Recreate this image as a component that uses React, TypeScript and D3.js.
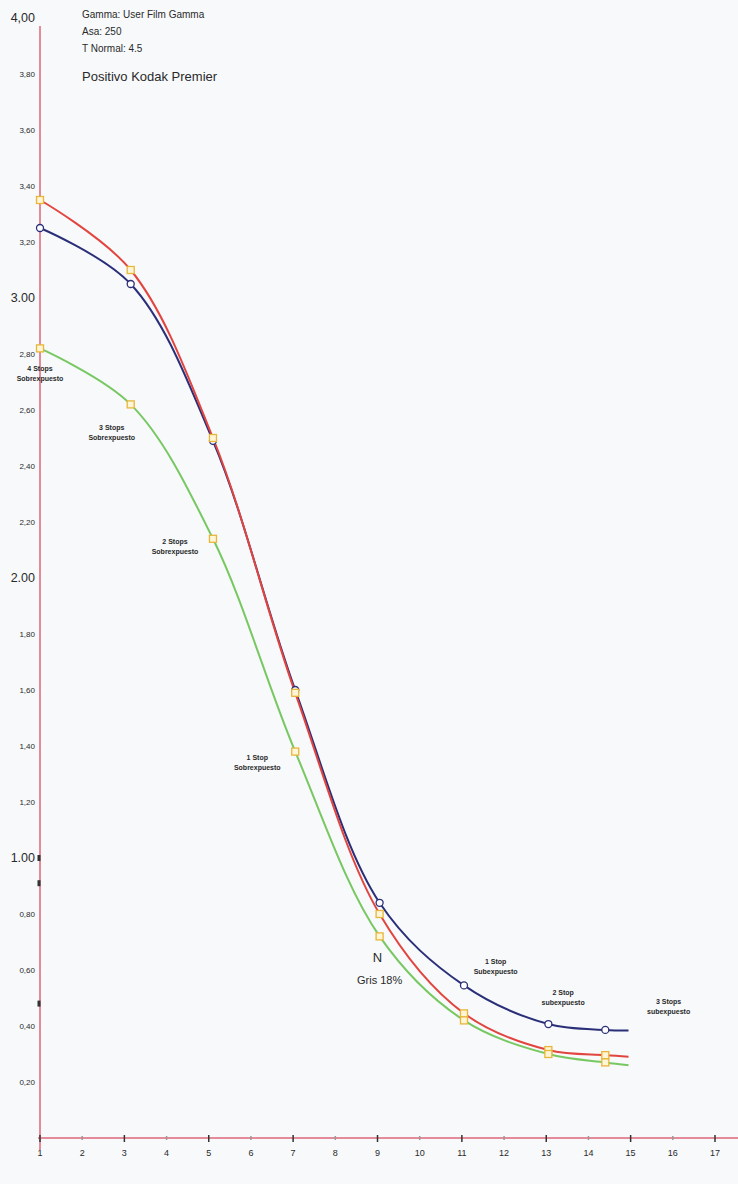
import React from "react";
import * as d3 from "d3";

// Exposure points (stops) and measured densities for each curve
const stopX = [1, 3.15, 5.1, 7.05, 9.05, 11.05, 13.05, 14.4, 14.95];
const redDensity = [3.35, 3.1, 2.5, 1.59, 0.8, 0.445, 0.314, 0.296, 0.29];
const blueDensity = [3.25, 3.05, 2.49, 1.6, 0.84, 0.545, 0.407, 0.386, 0.384];
const greenDensity = [2.82, 2.62, 2.14, 1.38, 0.72, 0.42, 0.3, 0.27, 0.26];
const markerCount = 8;

const yTicks = [4, 3.8, 3.6, 3.4, 3.2, 3, 2.8, 2.6, 2.4, 2.2, 2, 1.8, 1.6, 1.4, 1.2, 1, 0.8, 0.6, 0.4, 0.2];
const majorYTicks = [4, 3, 2, 1];
const xTicks = d3.range(1, 18);

const headerLines = ["Gamma: User Film Gamma", "Asa: 250", "T Normal: 4.5"];
const headerTitle = "Positivo Kodak Premier";

// Stop annotations: [x (stops), density, line1, line2]
const stopNotes: [number, number, string, string][] = [
  [1, 2.74, "4 Stops", "Sobrexpuesto"],
  [2.7, 2.53, "3 Stops", "Sobrexpuesto"],
  [4.2, 2.12, "2 Stops", "Sobrexpuesto"],
  [6.15, 1.35, "1 Stop", "Sobrexpuesto"],
  [11.8, 0.62, "1 Stop", "Subexpuesto"],
  [13.4, 0.51, "2 Stop", "subexpuesto"],
  [15.9, 0.48, "3 Stops", "subexpuesto"],
];

const W = 738;
const H = 1184;

export default function App() {
  const x = d3.scaleLinear().domain([1, 17]).range([40, 715]);
  const y = d3.scaleLinear().domain([0, 4]).range([1138, 18]);

  const line = d3
    .line<number>()
    .x((_, i) => x(stopX[i]))
    .y((d) => y(d))
    .curve(d3.curveCatmullRom.alpha(0.5));

  const series = [
    { name: "blue", values: blueDensity, color: "#2b2f78", marker: "circle" },
    { name: "red", values: redDensity, color: "#e2453f", marker: "square" },
    { name: "green", values: greenDensity, color: "#78c862", marker: "square" },
  ];

  const textColor = "#2a2a2a";
  const axisColor = "#e58a98";

  return (
    <svg
      width={W}
      height={H}
      style={{ position: "absolute", left: 0, top: 0, background: "#f7f9fb" }}
      fontFamily="Liberation Sans, Arial, sans-serif"
    >
      <rect x={0} y={0} width={W} height={H} fill="#f7f9fb" />

      {/* axes */}
      <line x1={x(1)} x2={x(1)} y1={26} y2={1150} stroke={axisColor} strokeWidth={2} />
      <line x1={x(1) - 2} x2={W} y1={y(0)} y2={y(0)} stroke={axisColor} strokeWidth={2} />

      {yTicks.map((t) => {
        const major = majorYTicks.includes(t);
        const label = t === 4 ? "4,00" : major ? t.toFixed(2) : t.toFixed(2).replace(".", ",");
        return (
          <text
            key={t}
            x={35}
            y={y(t)}
            dy="0.35em"
            textAnchor="end"
            fontSize={major ? 12.5 : 8}
            fill={textColor}
          >
            {label}
          </text>
        );
      })}
      {/* marks on the density axis */}
      {[1, 0.91, 0.48].map((v) => (
        <rect key={v} x={x(1) - 2.5} y={y(v) - 3} width={3} height={6} fill="#333" />
      ))}

      {xTicks.map((t) => (
        <g key={t}>
          <line
            x1={x(t)}
            x2={x(t)}
            y1={y(0) - (t % 2 === 1 ? 3 : 2)}
            y2={y(0) + (t % 2 === 1 ? 4 : 2)}
            stroke={t % 2 === 1 ? "#333" : "#999"}
            strokeWidth={1.5}
          />
          <text x={x(t)} y={1156} textAnchor="middle" fontSize={9} fill={textColor}>
            {t}
          </text>
        </g>
      ))}

      {/* header */}
      {headerLines.map((s, i) => (
        <text key={s} x={82} y={18 + i * 17} fontSize={10} fill={textColor}>
          {s}
        </text>
      ))}
      <text x={82} y={81} fontSize={13} fill={textColor}>
        {headerTitle}
      </text>

      {/* curves */}
      {series.map((s) => (
        <path key={s.name} d={line(s.values) ?? ""} fill="none" stroke={s.color} strokeWidth={2} />
      ))}
      {series.map((s) =>
        s.values.slice(0, markerCount).map((v, i) =>
          s.marker === "circle" ? (
            <circle
              key={s.name + i}
              cx={x(stopX[i])}
              cy={y(v)}
              r={3.5}
              fill="#ffffff"
              stroke={s.color}
              strokeWidth={1.3}
            />
          ) : (
            <rect
              key={s.name + i}
              x={x(stopX[i]) - 3.5}
              y={y(v) - 3.5}
              width={7}
              height={7}
              fill="#fff6d8"
              stroke="#e8b63a"
              strokeWidth={1.3}
            />
          )
        )
      )}

      {/* annotations */}
      {stopNotes.map(([sx, sy, a, b]) => (
        <g key={a + b + sx}>
          <text x={x(sx)} y={y(sy)} textAnchor="middle" fontSize={7} fontWeight="bold" fill={textColor}>
            {a}
          </text>
          <text x={x(sx)} y={y(sy) + 10} textAnchor="middle" fontSize={7} fontWeight="bold" fill={textColor}>
            {b}
          </text>
        </g>
      ))}
      <text x={x(9.0)} y={y(0.63)} textAnchor="middle" fontSize={13} fill={textColor}>
        N
      </text>
      <text x={x(9.05)} y={y(0.55)} textAnchor="middle" fontSize={11} fill={textColor}>
        Gris 18%
      </text>
    </svg>
  );
}
